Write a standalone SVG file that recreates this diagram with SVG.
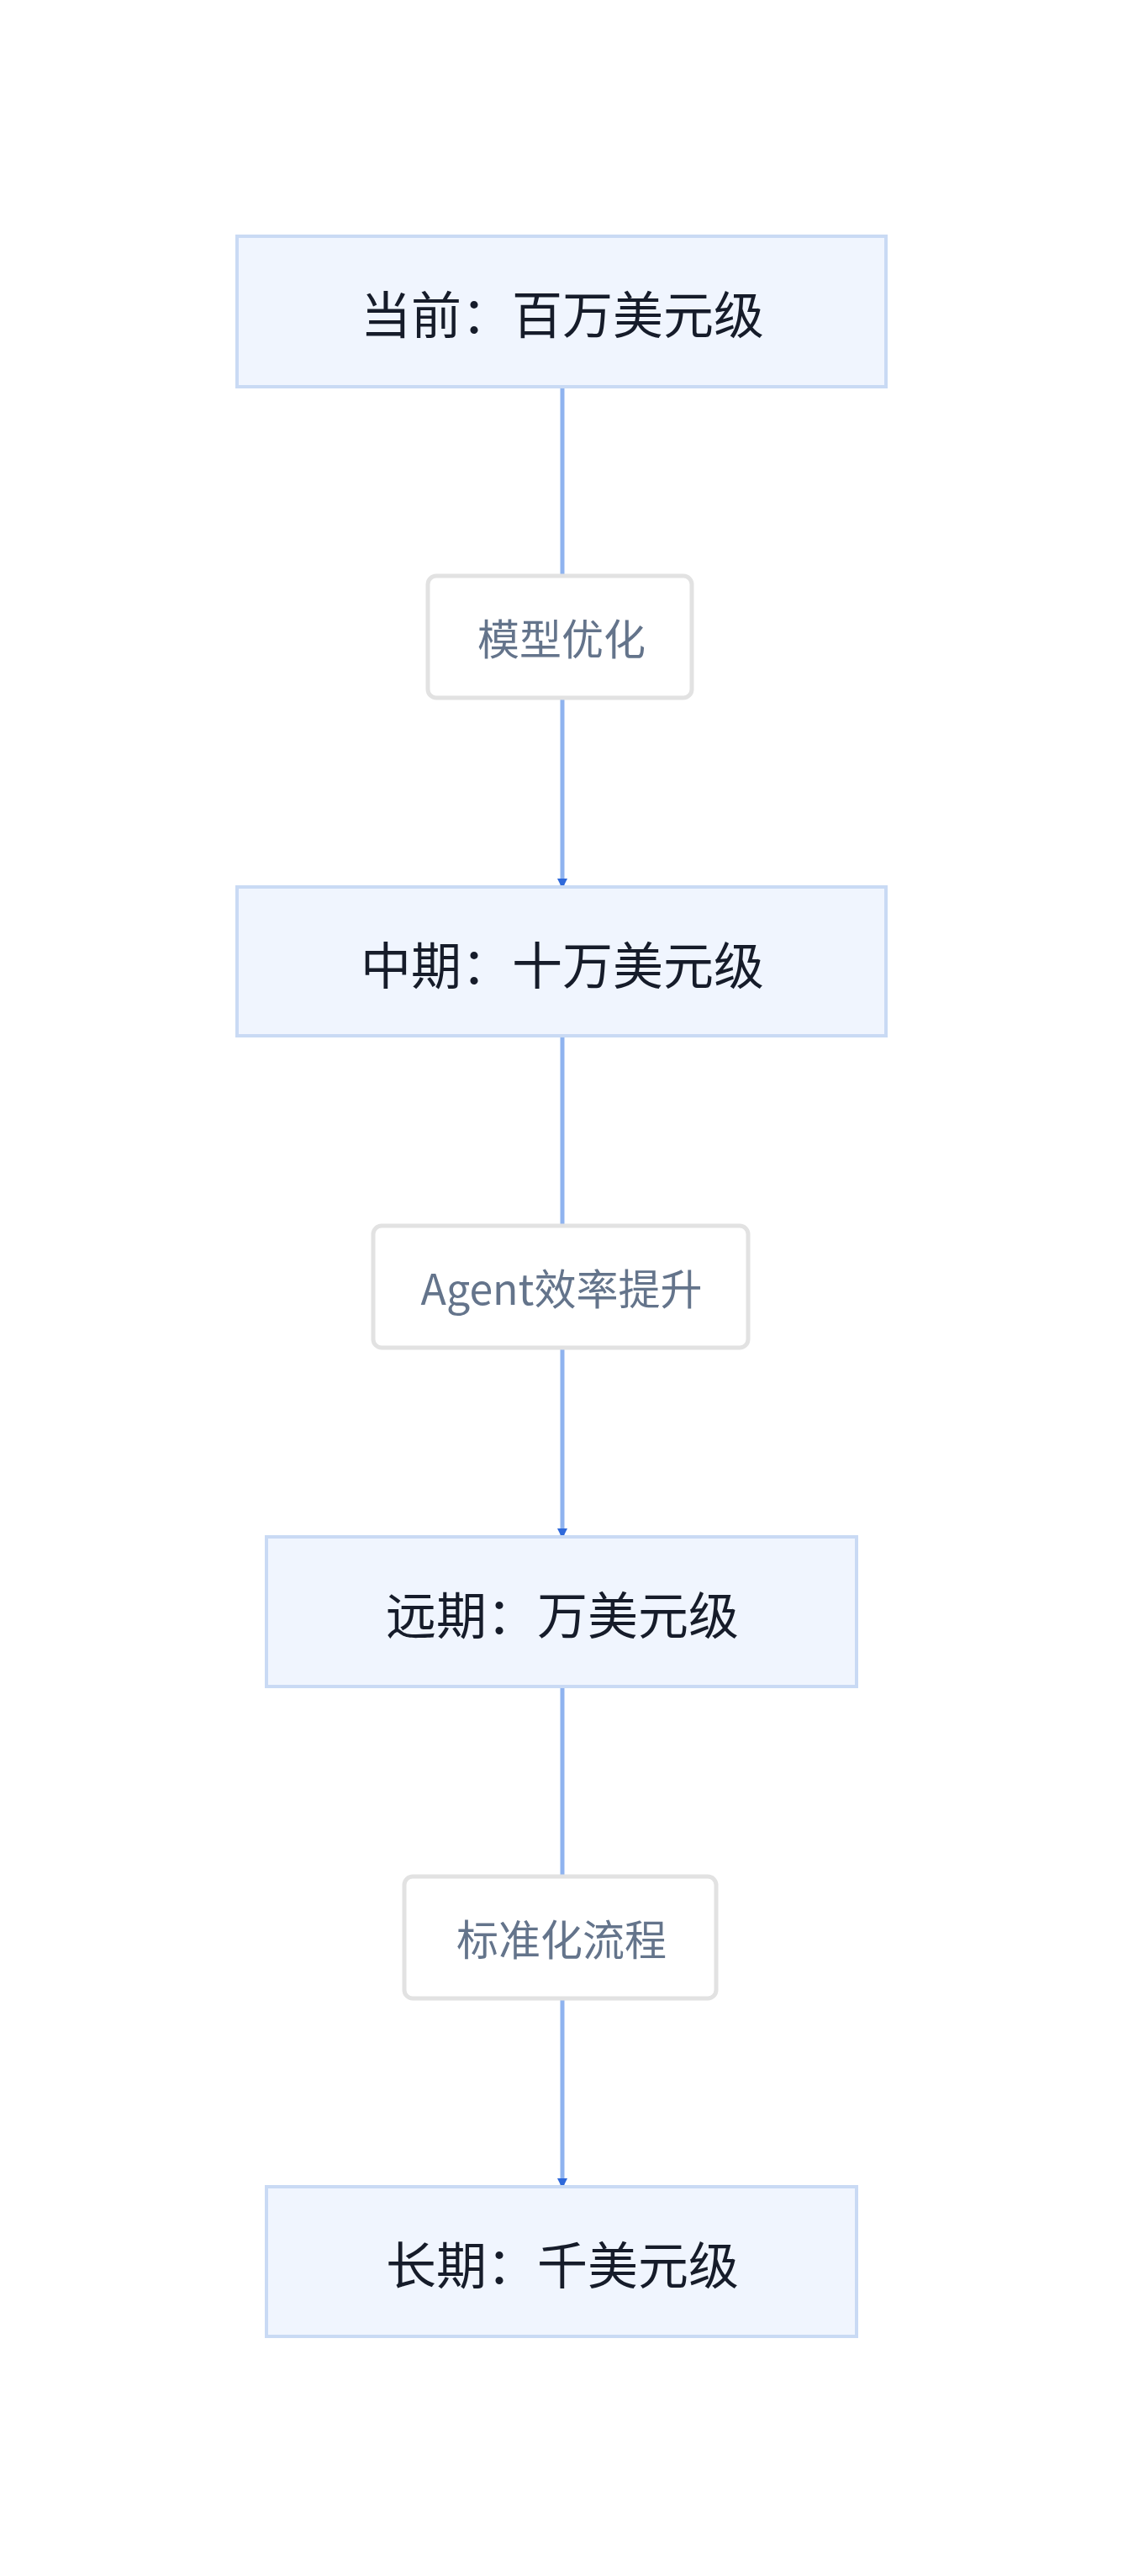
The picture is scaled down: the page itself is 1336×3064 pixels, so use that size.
<svg xmlns="http://www.w3.org/2000/svg" width="1336" height="3064" viewBox="0 0 1336 3064">
<style>
.node rect{fill:#f0f5fe;stroke:#c9daf4;stroke-width:4}
.node text{font-family:"Noto Sans CJK SC","Noto Sans",sans-serif;font-size:60px;fill:#161c2a;text-anchor:middle;dominant-baseline:central}
.lbl rect{fill:#fff;stroke:#e2e2e2;stroke-width:5}
.lbl text{font-family:"Noto Sans CJK SC","Noto Sans",sans-serif;font-size:50px;fill:#64748b;text-anchor:middle;dominant-baseline:central}
.edge{stroke:#8fb3ef;stroke-width:5;fill:none}
</style>
<defs><marker id="ah" markerWidth="12" markerHeight="12" refX="10" refY="6" orient="auto" markerUnits="userSpaceOnUse" viewBox="0 0 12 12"><path d="M0,0 L12,6 L0,12 z" fill="#2f69da"/></marker></defs>
<rect width="1336" height="3064" fill="#fff"/>
<g id="connectors">
<path class="edge" d="M669,460 V1055" marker-end="url(#ah)" transform=""/>
<path class="edge" d="M669,1232 V1828" marker-end="url(#ah)"/>
<path class="edge" d="M669,2006 V2601" marker-end="url(#ah)"/>
</g>
<g id="n1" class="node"><rect x="282" y="281" width="772" height="179"/><text x="669" y="370">当前：百万美元级</text></g>
<g id="n2" class="node"><rect x="282" y="1055" width="772" height="177"/><text x="669" y="1144">中期：十万美元级</text></g>
<g id="n3" class="node"><rect x="317" y="1828" width="702" height="178"/><text x="669" y="1917">远期：万美元级</text></g>
<g id="n4" class="node"><rect x="317" y="2601" width="702" height="178"/><text x="669" y="2690">长期：千美元级</text></g>
<g id="l1" class="lbl"><rect x="509" y="685" width="314" height="145" rx="10"/><text x="668" y="757">模型优化</text></g>
<g id="l2" class="lbl"><rect x="444" y="1458" width="446" height="145" rx="10"/><text x="668" y="1530">Agent效率提升</text></g>
<g id="l3" class="lbl"><rect x="481" y="2232" width="371" height="145" rx="10"/><text x="668" y="2304">标准化流程</text></g>
</svg>
